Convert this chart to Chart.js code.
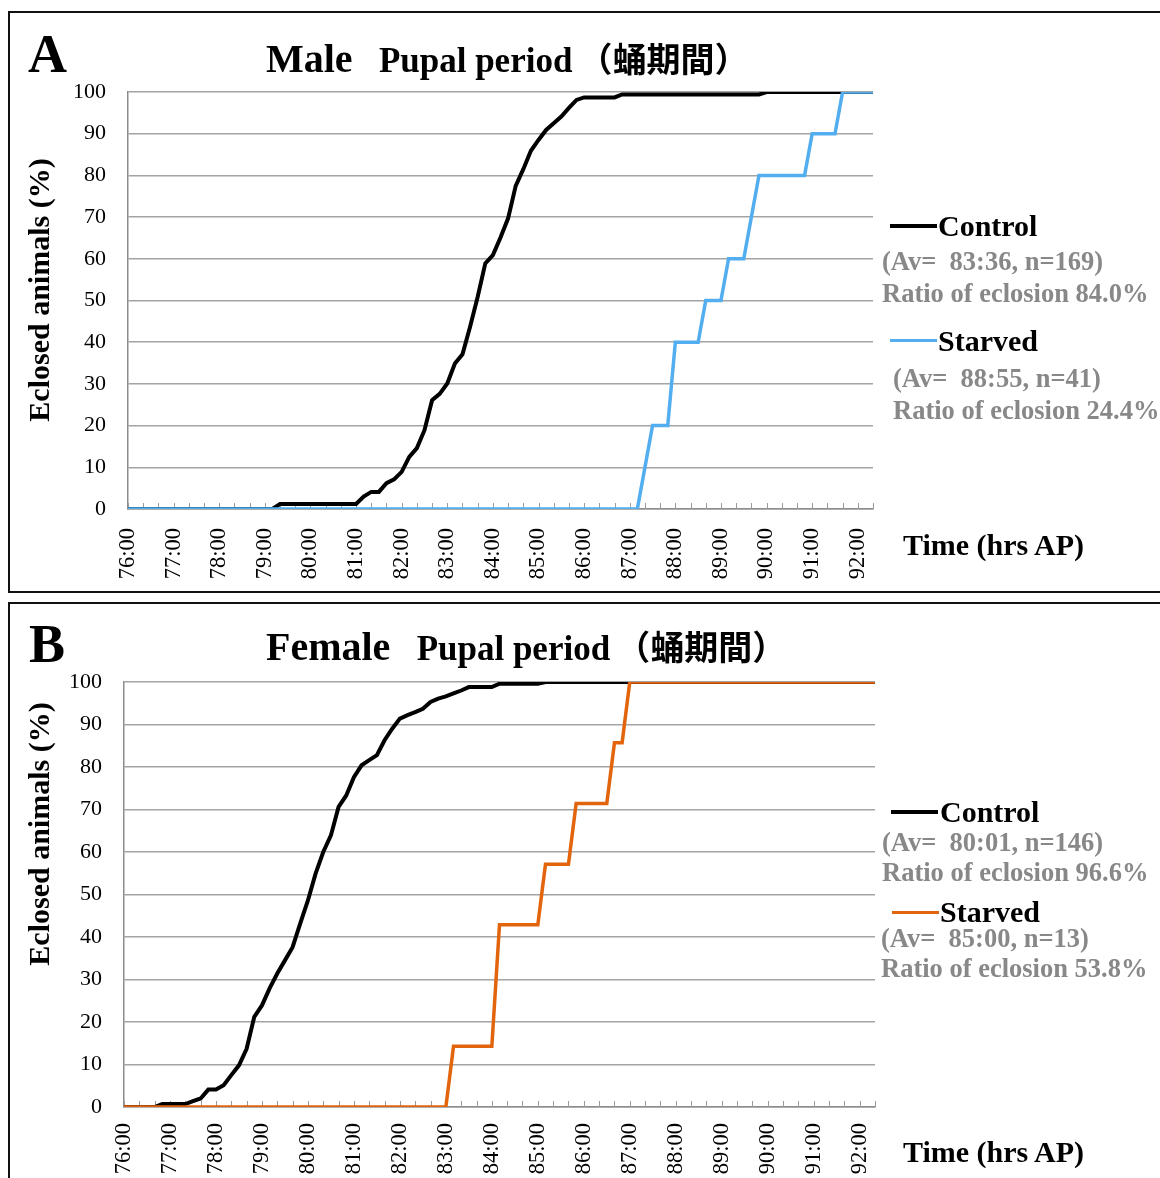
<!DOCTYPE html>
<html>
<head>
<meta charset="utf-8">
<script src="https://cdn.jsdelivr.net/npm/chart.js@4.4.1/dist/chart.umd.min.js"></script>
<style>
body { margin: 0; background: #fff; }
#page { position: relative; width: 1160px; height: 1178px; overflow: hidden;
        font-family: 'Liberation Serif', 'Noto Sans CJK JP', serif; }
canvas { position: absolute; left: 0; }
.box { position: absolute; border: 2px solid #111; }
.t { position: absolute; white-space: pre; line-height: 1; font-weight: bold; transform: translateY(-50%); }
.panel { font-size: 54px; }
.title { font-size: 40px; }
.title .sub { font-size: 35px; }
.title .cjk { font-size: 34px; margin-left: 6px; font-family: 'Noto Sans CJK JP', sans-serif; }
.ytitle { position: absolute; white-space: pre; line-height: 1; font-weight: bold; font-size: 30px;
          transform: translate(-50%, -50%) rotate(-90deg); }
.xtitle { font-size: 30px; }
.leg { font-size: 30px; color: #000; }
.note { font-size: 26.5px; color: #888; }
.sw { position: absolute; height: 4px; }
</style>
</head>
<body>
<div id="page">
  <div class="box" style="left:8px; top:11px; width:1200px; height:578px;"></div>
  <div class="box" style="left:8px; top:602px; width:1200px; height:700px;"></div>

  <canvas id="male" width="1160" height="597" style="top:0;"></canvas>
  <canvas id="female" width="1160" height="581" style="top:597px;"></canvas>

  <!-- panel A -->
  <div class="t panel" style="left:28px; top:54px;">A</div>
  <div class="t title" style="left:266px; top:59px;">Male<span class="sub">   Pupal period</span><span class="cjk">（蛹期間）</span></div>
  <div class="ytitle" style="left:39px; top:290px;">Eclosed animals (%)</div>
  <div class="t xtitle" style="left:903px; top:545px;">Time (hrs AP)</div>
  <div class="sw" style="left:890px; top:224px; width:47px; background:#000;"></div>
  <div class="t leg" style="left:938px; top:226px;">Control</div>
  <div class="t note" style="left:882px; top:261px;">(Av=  83:36, n=169)</div>
  <div class="t note" style="left:882px; top:293px;">Ratio of eclosion 84.0%</div>
  <div class="sw" style="left:890px; top:339px; width:47px; height:3px; background:#52AEEF;"></div>
  <div class="t leg" style="left:938px; top:341px;">Starved</div>
  <div class="t note" style="left:893px; top:378px;">(Av=  88:55, n=41)</div>
  <div class="t note" style="left:893px; top:410px;">Ratio of eclosion 24.4%</div>

  <!-- panel B -->
  <div class="t panel" style="left:29px; top:644px;">B</div>
  <div class="t title" style="left:266px; top:647px;">Female<span class="sub">   Pupal period</span><span class="cjk">（蛹期間）</span></div>
  <div class="ytitle" style="left:39px; top:834px;">Eclosed animals (%)</div>
  <div class="t xtitle" style="left:903px; top:1152px;">Time (hrs AP)</div>
  <div class="sw" style="left:891px; top:810px; width:47px; background:#000;"></div>
  <div class="t leg" style="left:940px; top:812px;">Control</div>
  <div class="t note" style="left:882px; top:842px;">(Av=  80:01, n=146)</div>
  <div class="t note" style="left:882px; top:872px;">Ratio of eclosion 96.6%</div>
  <div class="sw" style="left:892px; top:911px; width:47px; height:3px; background:#E2640C;"></div>
  <div class="t leg" style="left:940px; top:912px;">Starved</div>
  <div class="t note" style="left:881px; top:938px;">(Av=  85:00, n=13)</div>
  <div class="t note" style="left:881px; top:968px;">Ratio of eclosion 53.8%</div>
</div>

<script>
// axis range and labels
var axisStart = '76:00';
var axisEnd = '92:20';
var hourLabels = ['76:00', '77:00', '78:00', '79:00', '80:00', '81:00', '82:00', '83:00', '84:00',
                  '85:00', '86:00', '87:00', '88:00', '89:00', '90:00', '91:00', '92:00'];

// Male control (% eclosed, cumulative)
var maleControlTime = ['76:00', '79:10', '79:20', '81:00', '81:10', '81:20', '81:30', '81:40', '81:50',
  '82:00', '82:10', '82:20', '82:30', '82:40', '82:50', '83:00', '83:10', '83:20', '83:30', '83:40',
  '83:50', '84:00', '84:10', '84:20', '84:30', '84:40', '84:50', '85:00', '85:10', '85:20', '85:30',
  '85:40', '85:50', '86:00', '86:40', '86:50', '89:50', '90:00', '92:20'];
var maleControlPct = [0, 0, 1.2, 1.2, 3.0, 4.1, 4.1, 6.2, 7.1,
  8.9, 12.5, 14.6, 18.9, 26.1, 27.6, 30.1, 34.9, 37.1, 43.7, 50.9,
  58.9, 60.9, 65.1, 69.7, 77.5, 81.5, 85.9, 88.5, 90.9, 92.5, 94.1,
  96.2, 98.1, 98.7, 98.7, 99.4, 99.4, 100, 100];

// Male starved
var maleStarvedTime = ['76:00', '87:10', '87:30', '87:50', '88:00', '88:30', '88:40', '89:00', '89:10',
  '89:30', '89:50', '90:50', '91:00', '91:30', '91:40', '92:20'];
var maleStarvedPct = [0, 0, 20, 20, 40, 40, 50, 50, 60, 60, 80, 80, 90, 90, 100, 100];

// Female control
var femaleControlTime = ['76:00', '76:40', '76:50', '77:20', '77:30', '77:40', '77:50', '78:00', '78:10',
  '78:20', '78:30', '78:40', '78:50', '79:00', '79:10', '79:20', '79:30', '79:40', '79:50', '80:00',
  '80:10', '80:20', '80:30', '80:40', '80:50', '81:00', '81:10', '81:20', '81:30', '81:40', '81:50',
  '82:00', '82:10', '82:20', '82:30', '82:40', '82:50', '83:00', '83:10', '83:20', '83:30', '84:00',
  '84:10', '85:00', '85:10', '92:20'];
var femaleControlPct = [0, 0, 0.7, 0.7, 1.4, 2.0, 4.1, 4.1, 5.1,
  7.5, 9.8, 13.7, 21.2, 23.9, 27.9, 31.4, 34.5, 37.6, 43.2, 48.6,
  54.9, 60.0, 63.9, 70.6, 73.3, 77.6, 80.4, 81.6, 82.8, 86.3, 89.0,
  91.4, 92.2, 92.9, 93.7, 95.3, 96.1, 96.6, 97.3, 98.0, 98.8, 98.8,
  99.6, 99.6, 100, 100];

// Female starved
var femaleStarvedTime = ['76:00', '83:00', '83:10', '84:00', '84:10', '85:00', '85:10', '85:40', '85:50',
  '86:30', '86:40', '86:50', '87:00', '92:20'];
var femaleStarvedPct = [0, 0, 14.3, 14.3, 42.9, 42.9, 57.1, 57.1, 71.4, 71.4, 85.7, 85.7, 100, 100];

function toMin(s) {
  var p = s.split(':');
  return parseInt(p[0], 10) * 60 + parseInt(p[1], 10);
}
function points(times, values) {
  return times.map(function (t, i) { return { x: toMin(t), y: values[i] }; });
}

Chart.defaults.font.family = "'Liberation Serif', serif";
Chart.defaults.color = '#000';

// small tick marks pointing up into the plot, every 20 min
var innerTicks = {
  id: 'innerTicks',
  beforeDatasetsDraw: function (chart) {
    var sx = chart.scales.x, ctx = chart.ctx, b = chart.chartArea.bottom;
    ctx.save();
    ctx.strokeStyle = '#9a9a9a';
    ctx.lineWidth = 1;
    sx.ticks.forEach(function (t) {
      var px = Math.round(sx.getPixelForValue(t.value)) + 0.5;
      ctx.beginPath();
      ctx.moveTo(px, b);
      ctx.lineTo(px, b - 6);
      ctx.stroke();
    });
    ctx.restore();
  }
};

function makeChart(id, control, starved, starvedColor, g) {
  new Chart(document.getElementById(id), {
    type: 'line',
    data: {
      datasets: [{
        label: 'Control',
        data: control,
        borderColor: '#000',
        borderWidth: 4,
        pointRadius: 0,
        tension: 0,
        order: 2
      }, {
        label: 'Starved',
        data: starved,
        borderColor: starvedColor,
        borderWidth: 3.5,
        pointRadius: 0,
        tension: 0,
        order: 1
      }]
    },
    options: {
      responsive: false,
      animation: false,
      devicePixelRatio: 1,
      events: [],
      layout: { padding: { left: 0, top: g.top, right: 1160 - g.right, bottom: 0 } },
      plugins: { legend: { display: false }, title: { display: false }, tooltip: { enabled: false } },
      scales: {
        x: {
          type: 'linear',
          min: toMin(axisStart),
          max: toMin(axisEnd),
          afterFit: function (s) { s.height = g.h - g.bottom; },
          grid: { drawOnChartArea: false, drawTicks: false },
          border: { display: true, color: '#8c8c8c', width: 1.5 },
          ticks: {
            stepSize: 20,
            autoSkip: false,
            maxRotation: 90,
            minRotation: 90,
            padding: g.xPad,
            font: { size: 22.5 },
            callback: function (v) {
              return v % 60 === 0 ? hourLabels[(v - toMin(axisStart)) / 60] : '';
            }
          }
        },
        y: {
          min: 0,
          max: 100,
          afterFit: function (s) { s.width = g.left; },
          grid: { color: '#a4a4a4', lineWidth: 1.5, drawTicks: false },
          border: { display: true, color: '#8c8c8c', width: 1.5 },
          ticks: { stepSize: 10, padding: 22, font: { size: 22 } }
        }
      }
    },
    plugins: [innerTicks]
  });
}

makeChart('male', points(maleControlTime, maleControlPct), points(maleStarvedTime, maleStarvedPct),
  '#52AEEF', { left: 128, right: 873, top: 92, bottom: 509, h: 597, xPad: 19 });
makeChart('female', points(femaleControlTime, femaleControlPct), points(femaleStarvedTime, femaleStarvedPct),
  '#E2640C', { left: 124, right: 875, top: 85, bottom: 510, h: 581, xPad: 16 });
</script>
</body>
</html>
